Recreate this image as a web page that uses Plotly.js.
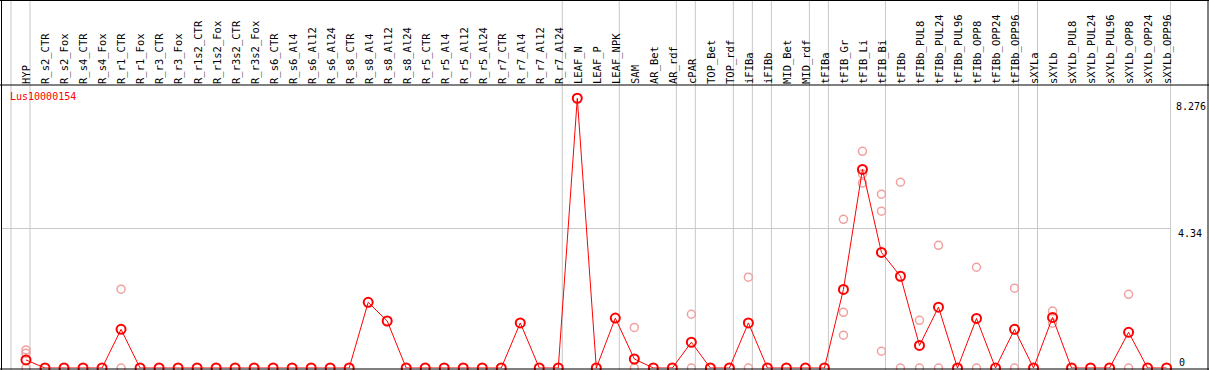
<!DOCTYPE html>
<html>
<head>
<meta charset="utf-8">
<script src="https://cdn.plot.ly/plotly-3.0.1.min.js"></script>
<style>html,body{margin:0;padding:0;background:#fff;}#chart{width:1209px;height:370px;}</style>
</head>
<body>
<div id="chart"></div>
<script>
var categories = ["HYP","R_s2_CTR","R_s2_Fox","R_s4_CTR","R_s4_Fox","R_r1_CTR","R_r1_Fox","R_r3_CTR","R_r3_Fox","R_r1s2_CTR","R_r1s2_Fox","R_r3s2_CTR","R_r3s2_Fox","R_s6_CTR","R_s6_Al4","R_s6_Al12","R_s6_Al24","R_s8_CTR","R_s8_Al4","R_s8_Al12","R_s8_Al24","R_r5_CTR","R_r5_Al4","R_r5_Al12","R_r5_Al24","R_r7_CTR","R_r7_Al4","R_r7_Al12","R_r7_Al24","LEAF_N","LEAF_P","LEAF_NPK","SAM","AR_Bet","AR_rdf","cPAR","TOP_Bet","TOP_rdf","iFIBa","iFIBb","MID_Bet","MID_rdf","tFIBa","tFIB_Gr","tFIB_Li","tFIB_Bi","tFIBb","tFIBb_PUL8","tFIBb_PUL24","tFIBb_PUL96","tFIBb_OPP8","tFIBb_OPP24","tFIBb_OPP96","sXYLa","sXYLb","sXYLb_PUL8","sXYLb_PUL24","sXYLb_PUL96","sXYLb_OPP8","sXYLb_OPP24","sXYLb_OPP96"];

var meanValues = [0.25,0,0,0,0,1.20,0,0,0,0,0,0,0,0,0,0,0,0,2.04,1.46,0,0,0,0,0,0,1.40,0,0,8.38,0,1.55,0.28,0,0,0.80,0,0,1.40,0,0,0,0,2.44,6.17,3.59,2.85,0.70,1.89,0,1.54,0,1.20,0,1.57,0,0,0,1.11,0,0];

var replicateCats = ["HYP","HYP","HYP","R_r1_CTR","R_r1_CTR","SAM","SAM","cPAR","cPAR","iFIBa","iFIBa","tFIB_Gr","tFIB_Gr","tFIB_Gr","tFIB_Li","tFIB_Li","tFIB_Li","tFIB_Bi","tFIB_Bi","tFIB_Bi","tFIBb","tFIBb","tFIBb_PUL8","tFIBb_PUL8","tFIBb_PUL24","tFIBb_PUL24","tFIBb_OPP8","tFIBb_OPP8","tFIBb_OPP96","tFIBb_OPP96","sXYLb","sXYLb","sXYLb_OPP8","sXYLb_OPP8"];
var replicateValues = [0.56,0.46,0,2.45,0,1.26,0,1.67,0,2.82,0,4.62,1.73,1.02,6.73,6.03,5.75,5.40,4.87,0.52,5.77,0,1.48,0,3.81,0,3.13,0,2.48,0,1.77,1.39,2.29,0];

var geneName = "Lus10000154";
var gridValue = 4.34;
var axisLabels = ["8.276","4.34","0"];
var axisLabelValues = [8.276, 4.34, 0];
// group separators placed after these category indices
var separatorAfter = [-1,0,28,31,34,35,37,38,39,41,42,45,52,53,60];

var W = 1209, H = 370, L = 1, R = 38, T = 85, B = 2;
var pw = W - L - R, ph = H - T - B;
function px2paperX(p){ return (p - L) / pw; }
function px2paperY(p){ return (H - B - p) / ph; }

var gray = '#c8c8c8';
var shapes = [];
separatorAfter.forEach(function(i){
  shapes.push({type:'line', xref:'x', yref:'paper', x0:i+0.21, x1:i+0.21, y0:px2paperY(370), y1:px2paperY(0), line:{color:gray,width:1}, layer:'below'});
});
// frame lines
var blk = {color:'#000', width:1};
shapes.push({type:'line', xref:'paper', yref:'paper', x0:px2paperX(0), x1:px2paperX(1209), y0:px2paperY(0.5), y1:px2paperY(0.5), line:blk});
shapes.push({type:'line', xref:'paper', yref:'paper', x0:px2paperX(0), x1:px2paperX(1209), y0:px2paperY(85), y1:px2paperY(85), line:blk});
shapes.push({type:'line', xref:'paper', yref:'paper', x0:px2paperX(0), x1:px2paperX(1209), y0:px2paperY(369), y1:px2paperY(369), line:blk});
shapes.push({type:'line', xref:'paper', yref:'paper', x0:px2paperX(1.5), x1:px2paperX(1.5), y0:px2paperY(0), y1:px2paperY(370), line:blk});
shapes.push({type:'line', xref:'paper', yref:'paper', x0:px2paperX(1208), x1:px2paperX(1208), y0:px2paperY(0), y1:px2paperY(370), line:blk});

var mono = 'DejaVu Sans Mono, monospace';
var annotations = [{
  text: geneName, xref:'paper', yref:'paper', x:px2paperX(8), y:px2paperY(97), xanchor:'left', yanchor:'middle',
  showarrow:false, font:{family:mono, size:10, color:'#ff0000'}
}];
var labelPos = [{x:1208, a:'right', s:-5}, {x:1176, a:'left', s:-5}, {x:1177, a:'left', s:6}];
axisLabels.forEach(function(t, k){
  annotations.push({text:t, xref:'paper', yref:'y', x:px2paperX(labelPos[k].x), y:axisLabelValues[k], xanchor:labelPos[k].a, yanchor:'middle', yshift:labelPos[k].s, showarrow:false, font:{family:mono, size:10, color:'#000'}});
});

var traces = [
  {type:'scatter', mode:'markers', x:replicateCats, y:replicateValues, cliponaxis:false,
   marker:{symbol:'circle-open', size:8, color:'#f0a0a0', line:{width:1.5, color:'#f0a0a0'}}, hoverinfo:'x+y'},
  {type:'scatter', mode:'lines+markers', x:categories, y:meanValues, cliponaxis:false,
   line:{color:'#ff0000', width:1},
   marker:{symbol:'circle-open', size:9, color:'#ff0000', line:{width:2, color:'#ff0000'}}}
];

var layout = {
  width:W, height:H, margin:{l:L, r:R, t:T, b:B, pad:0},
  paper_bgcolor:'#fff', plot_bgcolor:'#fff', showlegend:false,
  xaxis:{type:'category', categoryorder:'array', categoryarray:categories, side:'top',
    range:[(1-26)/19.01, (1171-26)/19.01], tickangle:-90, ticks:'', showgrid:false, zeroline:false,
    showline:false, tickfont:{family:mono, size:10.5, color:'#000'}, ticklabelshift:1, automargin:false, fixedrange:true},
  yaxis:{range:[0, 283/32.19], tickvals:[gridValue], showticklabels:false, ticks:'', showgrid:true, gridcolor:gray, gridwidth:1,
    zeroline:false, showline:false, automargin:false, fixedrange:true},
  shapes:shapes, annotations:annotations
};

Plotly.newPlot('chart', traces, layout, {displayModeBar:false, staticPlot:true});
</script>
</body>
</html>
